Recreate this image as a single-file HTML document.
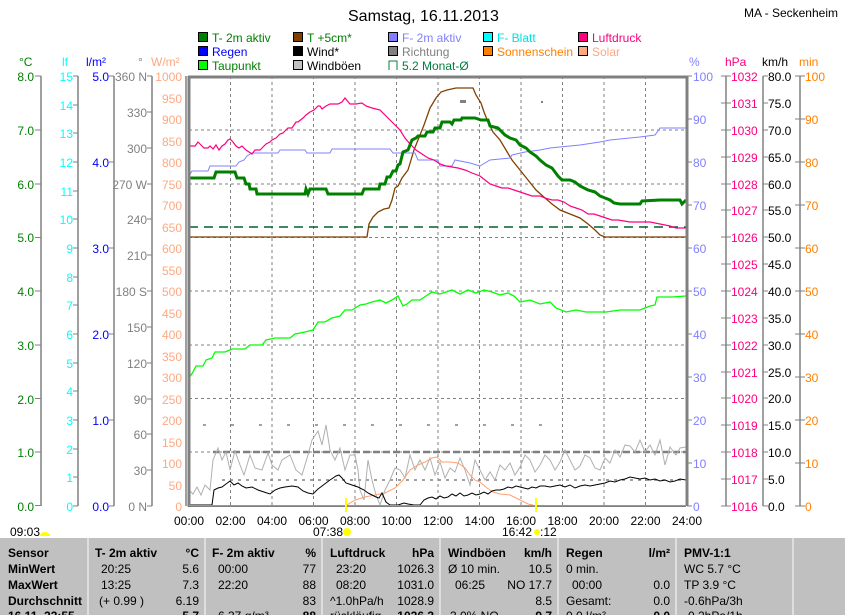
<!DOCTYPE html>
<html><head><meta charset="utf-8"><style>
body{margin:0;background:#fff;}
svg{display:block;font-family:"Liberation Sans",sans-serif;font-size:12px;}
.b{font-weight:bold}
</style></head><body>
<svg width="845" height="615" viewBox="0 0 845 615" xmlns="http://www.w3.org/2000/svg">
<rect width="845" height="615" fill="#fff"/>
<text x="348" y="21" font-size="16">Samstag, 16.11.2013</text>
<text x="838" y="17" font-size="12" text-anchor="end">MA - Seckenheim</text>
<!-- legend -->
<g font-size="12">
<rect x="198.5" y="32.5" width="9" height="9" fill="#008000" stroke="#000"/><text x="212" y="42" fill="#008000">T- 2m aktiv</text>
<rect x="198.5" y="46.5" width="9" height="9" fill="#0000ff" stroke="#000"/><text x="212" y="56" fill="#0000ff">Regen</text>
<rect x="198.5" y="60.5" width="9" height="9" fill="#00ff00" stroke="#000"/><text x="212" y="70" fill="#008000">Taupunkt</text>
<rect x="293.5" y="32.5" width="9" height="9" fill="#804000" stroke="#000"/><text x="307" y="42" fill="#008000">T +5cm*</text>
<rect x="293.5" y="46.5" width="9" height="9" fill="#000" stroke="#000"/><text x="307" y="56" fill="#000">Wind*</text>
<rect x="293.5" y="60.5" width="9" height="9" fill="#c0c0c0" stroke="#000"/><text x="307" y="70" fill="#000">Windböen</text>
<rect x="388.5" y="32.5" width="9" height="9" fill="#8080ff" stroke="#000"/><text x="402" y="42" fill="#8080ff">F- 2m aktiv</text>
<rect x="388.5" y="46.5" width="9" height="9" fill="#808080" stroke="#000"/><text x="402" y="56" fill="#808080">Richtung</text>
<path d="M389 70V61H397V70" fill="none" stroke="#008040"/><text x="402" y="70" fill="#008040">5.2 Monat-Ø</text>
<rect x="483.5" y="32.5" width="9" height="9" fill="#00ffff" stroke="#000"/><text x="497" y="42" fill="#00e0e0">F- Blatt</text>
<rect x="483.5" y="46.5" width="9" height="9" fill="#ff8000" stroke="#000"/><text x="497" y="56" fill="#ff8000">Sonnenschein</text>
<rect x="578.5" y="32.5" width="9" height="9" fill="#ff0080" stroke="#000"/><text x="592" y="42" fill="#ff0080">Luftdruck</text>
<rect x="578.5" y="46.5" width="9" height="9" fill="#ffa880" stroke="#000"/><text x="592" y="56" fill="#ffa880">Solar</text>
</g>
<!-- axis headers -->
<text x="19" y="66" fill="#008000">°C</text>
<text x="62" y="66" fill="#00ffff">lf</text>
<text x="86" y="66" fill="#0000ff">l/m²</text>
<text x="138" y="66" fill="#808080">°</text>
<text x="151" y="66" fill="#ffa880">W/m²</text>
<text x="689" y="66" fill="#8080ff">%</text>
<text x="725" y="66" fill="#ff0080">hPa</text>
<text x="762" y="66" fill="#000">km/h</text>
<text x="799" y="66" fill="#ff8000">min</text>
<!-- grid -->
<g stroke="#808080" stroke-dasharray="3,3" stroke-width="1">
<path d="M230.5 76V506M272 76V506M313.5 76V506M355 76V506M396.5 76V506M438 76V506M479.5 76V506M521 76V506M562.5 76V506M604 76V506M645.5 76V506"/>
<path d="M189 130H687M189 184H687M189 237.5H687M189 291H687M189 345H687M189 398.5H687M189 452H687"/>
</g>
<line x1="189" y1="227" x2="687" y2="227" stroke="#006030" stroke-width="1.5" stroke-dasharray="9,6"/>
<!-- direction dots -->
<g stroke="#808080" stroke-width="1.5">
<line x1="213" y1="452" x2="686" y2="452" stroke-width="2.5" stroke-dasharray="7,3"/>
<line x1="222" y1="480" x2="686" y2="480" stroke-dasharray="3,5"/>
<line x1="203" y1="425" x2="545" y2="425" stroke-dasharray="3,25"/>
</g>
<!-- series -->
<polyline fill="none" stroke="#b0b0b0" stroke-width="1" points="189,490 193,494 197,487 201,495 205,485 210,490 213,460 218,448 222,460 226,452 230,470 235,451 240,465 244,475 250,455 255,468 262,470 268,453 272,465 278,470 282,460 290,455 296,470 302,475 308,455 312,440 318,431 322,445 326,425 330,450 335,460 340,448 345,470 350,455 355,455 358,470 360,490 364,500 368,460 372,480 376,495 380,505 385,490 390,480 395,468 400,470 405,478 410,455 415,470 420,460 425,470 430,458 435,475 440,462 445,478 450,468 455,472 460,458 465,470 470,485 475,460 480,470 485,480 490,472 495,480 500,465 505,470 510,463 515,475 520,467 525,455 530,460 535,472 540,465 545,455 550,460 555,470 560,462 565,450 570,460 575,470 580,466 585,455 590,458 595,468 600,470 605,458 610,463 615,450 620,457 625,445 630,446 635,452 640,440 645,452 650,445 655,455 660,440 665,465 670,447 676,455 680,448 686,447"/>
<polyline fill="none" stroke="#ffa070" stroke-width="1" points="347,505 355,500 365,497 375,495 385,493 395,488 403,480 410,470 418,465 425,462 432,458 437,457 442,462 450,462 458,463 465,468 470,475 475,480 480,482 487,488 493,492 500,494 510,495 520,500 528,504 533,505"/>
<polyline fill="none" stroke="#000" stroke-width="1" points="189,505 212,505 214,490 218,488 222,487 226,484 230,481 234,485 238,483 242,486 246,488 252,487 258,490 264,492 270,494 275,490 280,488 285,487 292,486 298,487 303,491 308,493 313,494 318,489 322,486 326,483 330,480 333,478 336,476 339,475 342,478 346,483 352,485 358,487 364,490 368,493 372,495 376,497 379,498 382,493 386,502 390,505 398,505 404,503 408,504 414,505 420,505 424,500 428,498 432,497 436,499 440,496 444,498 448,497 452,494 456,496 460,493 464,496 468,495 472,493 476,495 480,494 484,492 488,494 492,491 496,490 500,490 504,489 508,487 512,488 516,486 520,487 524,488 528,489 532,487 536,488 540,486 545,486 550,487 555,486 560,485 565,487 570,485 575,488 580,486 585,485 590,486 595,485 600,484 605,483 610,481 615,482 620,480 625,479 630,477 635,478 640,479 645,478 650,480 655,479 660,481 665,480 670,482 675,481 680,479 686,480"/>
<polyline fill="none" stroke="#00ff00" stroke-width="1.3" points="189,378 193,372 196,366 203,366 206,360 212,358 215,352 225,352 232,349 245,349 250,345 262,345 266,340 275,338 290,338 295,334 305,332 313,330 318,322 325,322 332,318 340,316 345,310 352,310 360,305 366,304 372,302 380,300 386,303 392,300 398,296 403,306 407,304 412,300 420,300 426,296 432,292 440,294 446,292 452,290 460,294 468,290 476,293 484,290 492,292 500,295 508,293 514,296 520,302 530,300 540,304 550,302 556,308 566,312 576,310 586,312 596,312 606,312 620,310 632,310 640,310 650,306 655,305 657,297 672,297 686,296"/>
<polyline fill="none" stroke="#804000" stroke-width="1.3" points="189,237 367,237 369,224 373,217 378,212 384,209 389,208 392,200 395,188 398,186 402,178 408,170 411,160 414,150 418,140 424,125 430,108 436,98 441,92 447,90 456,88 473,88 476,95 481,103 484,112 488,122 493,132 500,140 506,150 512,160 520,170 528,180 536,190 545,198 552,204 560,210 570,214 580,218 588,224 595,230 600,235 605,237 686,237"/>
<polyline fill="none" stroke="#8080ff" stroke-width="1" points="189,176 192,171 208,171 210,166 236,166 239,162 244,160 247,156 252,153 278,153 280,150 305,150 307,153 330,153 332,149 390,149 393,153 415,153 418,160 438,160 440,166 452,166 455,160 470,163 480,166 490,160 510,158 512,155 525,152 540,150 550,148 580,145 600,142 610,140 640,137 655,135 660,128 686,128"/>
<polyline fill="none" stroke="#ff0080" stroke-width="1.2" points="189,146 195,146 198,142 201,145 204,148 208,148 210,146 213,149 216,145 219,150 222,146 225,144 228,140 230,139 233,142 236,146 239,148 242,146 246,150 249,152 252,154 255,150 260,150 262,148 266,144 270,142 272,140 276,138 280,134 283,133 288,128 292,128 296,122 298,122 303,118 306,115 310,112 314,110 318,106 320,106 322,109 326,106 330,104 338,104 342,102 345,98 350,104 356,104 362,103 366,106 372,108 380,110 388,118 394,124 400,130 405,138 410,144 416,150 422,154 428,158 434,160 440,164 446,166 452,167 458,168 465,170 472,173 480,176 485,180 490,184 496,186 502,188 508,188 514,190 520,192 526,194 532,196 540,196 545,198 552,200 558,200 564,202 570,206 576,208 582,210 588,214 594,214 600,216 606,218 612,220 618,220 624,221 630,222 636,222 642,222 650,222 660,224 670,226 676,228 686,228"/>
<polyline fill="none" stroke="#008000" stroke-width="3" points="189,178 214,178 216,172 235,172 237,178 244,178 246,184 249,184 250,189 256,189 257,194 305,194 306,189 308,194 310,189 326,189 328,194 362,194 364,189 379,189 380,184 385,184 387,177 390,177 393,171 396,171 398,165 400,164 403,152 408,150 412,140 416,138 418,136 425,136 427,132 433,132 435,128 440,128 442,122 450,122 452,124 454,120 461,120 462,118 475,118 481,120 488,120 490,126 498,128 505,135 510,138 516,140 520,145 526,148 530,152 536,156 540,160 546,165 552,168 558,176 562,180 570,180 575,182 580,186 588,190 595,192 600,196 605,198 610,200 614,203 620,204 640,204 642,201 660,200 680,200 682,204 686,200"/>
<rect x="460" y="100" width="6" height="3" fill="#808080"/>
<rect x="541" y="101" width="2" height="2" fill="#808080"/>
<!-- plot frame -->
<path d="M188 77H687V506" fill="none" stroke="#808080" stroke-width="3"/>
<line x1="189" y1="76" x2="189" y2="507" stroke="#808080" stroke-width="3"/>
<line x1="189" y1="505.5" x2="686" y2="505.5" stroke="#ff8000" stroke-width="1"/>
<line x1="189" y1="506.5" x2="686" y2="506.5" stroke="#808080" stroke-width="1"/>
<line x1="346" y1="498" x2="346" y2="512" stroke="#ffff00" stroke-width="2"/>
<line x1="536" y1="498" x2="536" y2="512" stroke="#ffff00" stroke-width="2"/>
<!-- time labels -->
<g text-anchor="middle">
<text x="189" y="525">00:00</text><text x="230.5" y="525">02:00</text><text x="272" y="525">04:00</text><text x="313.5" y="525">06:00</text><text x="355" y="525">08:00</text><text x="396.5" y="525">10:00</text><text x="438" y="525">12:00</text><text x="479.5" y="525">14:00</text><text x="521" y="525">16:00</text><text x="562.5" y="525">18:00</text><text x="604" y="525">20:00</text><text x="645.5" y="525">22:00</text><text x="687" y="525">24:00</text>
</g>
<text x="10" y="536">09:03</text><path d="M40 536a5 4 0 0 1 10 0z" fill="#ffff00"/>
<text x="313" y="536">07:38</text><circle cx="347" cy="532" r="4" fill="#ffff00"/>
<text x="502" y="536">16:42</text><circle cx="537" cy="532" r="3" fill="#ffff00"/><text x="540" y="536">:12</text>
<!-- table -->
<rect x="0" y="538" width="845" height="77" fill="#c0c0c0"/>
<g stroke="#e8e8e8" stroke-width="1.5"><path d="M88 538V615M205 538V615M322 538V615M440 538V615M558 538V615M676 538V615M793 538V615"/></g>
<g font-size="12">
<g class="b"><text x="8" y="557">Sensor</text><text x="8" y="573">MinWert</text><text x="8" y="589">MaxWert</text><text x="8" y="605">Durchschnitt</text><text x="8" y="620">16.11. 23:55</text>
<text x="95" y="557">T- 2m aktiv</text><text x="212" y="557">F- 2m aktiv</text><text x="330" y="557">Luftdruck</text><text x="448" y="557">Windböen</text><text x="566" y="557">Regen</text><text x="684" y="557">PMV-1:1</text></g>
<g text-anchor="end" class="b"><text x="199" y="557">°C</text><text x="316" y="557">%</text><text x="434" y="557">hPa</text><text x="552" y="557">km/h</text><text x="670" y="557">l/m²</text>
<text x="199" y="620">5.7</text><text x="316" y="620">88</text><text x="434" y="620">1026.3</text><text x="552" y="620">9.7</text><text x="670" y="620">0.0</text></g>
<text x="101" y="573">20:25</text><text x="101" y="589">13:25</text><text x="99" y="605">(+ 0.99 )</text>
<text x="218" y="573">00:00</text><text x="218" y="589">22:20</text><text x="218" y="620">6.37 g/m³</text>
<text x="336" y="573">23:20</text><text x="336" y="589">08:20</text><text x="330" y="605">^1.0hPa/h</text><text x="330" y="620">rückläufig</text>
<text x="448" y="573">Ø 10 min.</text><text x="455" y="589">06:25</text><text x="450" y="620">3.0% NO</text>
<text x="566" y="573">0 min.</text><text x="572" y="589">00:00</text><text x="566" y="605">Gesamt:</text><text x="566" y="620">0.0 l/m²</text>
<text x="684" y="573">WC 5.7 °C</text><text x="684" y="589">TP 3.9 °C</text><text x="684" y="605">-0.6hPa/3h</text><text x="684" y="620">-0.2hPa/1h</text>
<g text-anchor="end"><text x="199" y="573">5.6</text><text x="199" y="589">7.3</text><text x="199" y="605">6.19</text>
<text x="316" y="573">77</text><text x="316" y="589">88</text><text x="316" y="605">83</text>
<text x="434" y="573">1026.3</text><text x="434" y="589">1031.0</text><text x="434" y="605">1028.9</text>
<text x="552" y="573">10.5</text><text x="552" y="589">NO 17.7</text><text x="552" y="605">8.5</text>
<text x="670" y="589">0.0</text><text x="670" y="605">0.0</text></g>
</g>
<!-- axes -->
<g stroke="#808080" stroke-width="1.5" fill="none">
<path d="M41 76V506M78 76V506M114 76V506M152 76V506M186 76V506M726 76V506M763 76V506M800 76V506"/>
</g>
<g font-size="12">
<g fill="#008000" text-anchor="end">
<text x="34" y="81">8.0</text><text x="34" y="135">7.0</text><text x="34" y="189">6.0</text><text x="34" y="242">5.0</text><text x="34" y="296">4.0</text><text x="34" y="350">3.0</text><text x="34" y="404">2.0</text><text x="34" y="457">1.0</text><text x="34" y="511">0.0</text></g>
<path stroke="#808080" d="M35 76H41M35 130H41M35 184H41M35 237.5H41M35 291H41M35 345H41M35 398.5H41M35 452H41M35 505.5H41"/>
<g fill="#00ffff" text-anchor="end">
<text x="73" y="81">15</text><text x="73" y="110">14</text><text x="73" y="138">13</text><text x="73" y="167">12</text><text x="73" y="196">11</text><text x="73" y="224">10</text><text x="73" y="253">9</text><text x="73" y="282">8</text><text x="73" y="310">7</text><text x="73" y="339">6</text><text x="73" y="368">5</text><text x="73" y="396">4</text><text x="73" y="425">3</text><text x="73" y="454">2</text><text x="73" y="482">1</text><text x="73" y="511">0</text></g>
<path stroke="#808080" d="M73 76H78M73 105H78M73 133H78M73 162H78M73 191H78M73 219H78M73 248H78M73 277H78M73 305H78M73 334H78M73 363H78M73 391H78M73 420H78M73 449H78M73 477H78M73 506H78"/>
<g fill="#0000ff" text-anchor="end">
<text x="109" y="81">5.0</text><text x="109" y="167">4.0</text><text x="109" y="253">3.0</text><text x="109" y="339">2.0</text><text x="109" y="425">1.0</text><text x="109" y="511">0.0</text></g>
<path stroke="#808080" d="M109 76H114M109 162H114M109 248H114M109 334H114M109 420H114M109 506H114"/>
<g fill="#808080" text-anchor="end">
<text x="147" y="81">360 N</text><text x="147" y="117">330</text><text x="147" y="153">300</text><text x="147" y="189">270 W</text><text x="147" y="224">240</text><text x="147" y="260">210</text><text x="147" y="296">180 S</text><text x="147" y="332">150</text><text x="147" y="368">120</text><text x="147" y="404">90</text><text x="147" y="439">60</text><text x="147" y="475">30</text><text x="147" y="511">0 N</text></g>
<path stroke="#808080" d="M147 76H152M147 112H152M147 148H152M147 184H152M147 219H152M147 255H152M147 291H152M147 327H152M147 363H152M147 399H152M147 434H152M147 470H152M147 506H152"/>
<g fill="#ffa880" text-anchor="end">
<text x="182" y="81">1000</text><text x="182" y="103">950</text><text x="182" y="124">900</text><text x="182" y="146">850</text><text x="182" y="167">800</text><text x="182" y="189">750</text><text x="182" y="210">700</text><text x="182" y="232">650</text><text x="182" y="253">600</text><text x="182" y="275">550</text><text x="182" y="296">500</text><text x="182" y="318">450</text><text x="182" y="339">400</text><text x="182" y="361">350</text><text x="182" y="382">300</text><text x="182" y="404">250</text><text x="182" y="425">200</text><text x="182" y="447">150</text><text x="182" y="468">100</text><text x="182" y="490">50</text><text x="182" y="511">0</text></g>
<g fill="#8080ff">
<text x="693" y="81">100</text><text x="693" y="124">90</text><text x="693" y="167">80</text><text x="693" y="210">70</text><text x="693" y="253">60</text><text x="693" y="296">50</text><text x="693" y="339">40</text><text x="693" y="382">30</text><text x="693" y="425">20</text><text x="693" y="468">10</text><text x="693" y="511">0</text></g>
<path stroke="#808080" d="M687 76H692M687 119H692M687 162H692M687 205H692M687 248H692M687 291H692M687 334H692M687 377H692M687 420H692M687 463H692M687 506H692"/>
<g fill="#ff0080">
<text x="731" y="81">1032</text><text x="731" y="108">1031</text><text x="731" y="135">1030</text><text x="731" y="162">1029</text><text x="731" y="189">1028</text><text x="731" y="215">1027</text><text x="731" y="242">1026</text><text x="731" y="269">1025</text><text x="731" y="296">1024</text><text x="731" y="323">1023</text><text x="731" y="350">1022</text><text x="731" y="377">1021</text><text x="731" y="403">1020</text><text x="731" y="430">1019</text><text x="731" y="457">1018</text><text x="731" y="484">1017</text><text x="731" y="511">1016</text></g>
<path stroke="#808080" d="M721 76H731M721 103H731M721 130H731M721 157H731M721 184H731M721 210H731M721 237H731M721 264H731M721 291H731M721 318H731M721 345H731M721 372H731M721 398H731M721 425H731M721 452H731M721 479H731M721 506H731"/>
<g fill="#000">
<text x="768" y="81">80.0</text><text x="768" y="108">75.0</text><text x="768" y="135">70.0</text><text x="768" y="162">65.0</text><text x="768" y="189">60.0</text><text x="768" y="215">55.0</text><text x="768" y="242">50.0</text><text x="768" y="269">45.0</text><text x="768" y="296">40.0</text><text x="768" y="323">35.0</text><text x="768" y="350">30.0</text><text x="768" y="377">25.0</text><text x="768" y="403">20.0</text><text x="768" y="430">15.0</text><text x="768" y="457">10.0</text><text x="768" y="484">5.0</text><text x="768" y="511">0.0</text></g>
<path stroke="#808080" d="M763 76H768M763 103H768M763 130H768M763 157H768M763 184H768M763 210H768M763 237H768M763 264H768M763 291H768M763 318H768M763 345H768M763 372H768M763 398H768M763 425H768M763 452H768M763 479H768M763 506H768"/>
<g fill="#ff8000">
<text x="805" y="81">100</text><text x="805" y="124">90</text><text x="805" y="167">80</text><text x="805" y="210">70</text><text x="805" y="253">60</text><text x="805" y="296">50</text><text x="805" y="339">40</text><text x="805" y="382">30</text><text x="805" y="425">20</text><text x="805" y="468">10</text><text x="805" y="511">0</text></g>
<path stroke="#808080" d="M795 76H805M795 119H805M795 162H805M795 205H805M795 248H805M795 291H805M795 334H805M795 377H805M795 420H805M795 463H805M795 506H805"/>
</g>
</svg>
</body></html>
